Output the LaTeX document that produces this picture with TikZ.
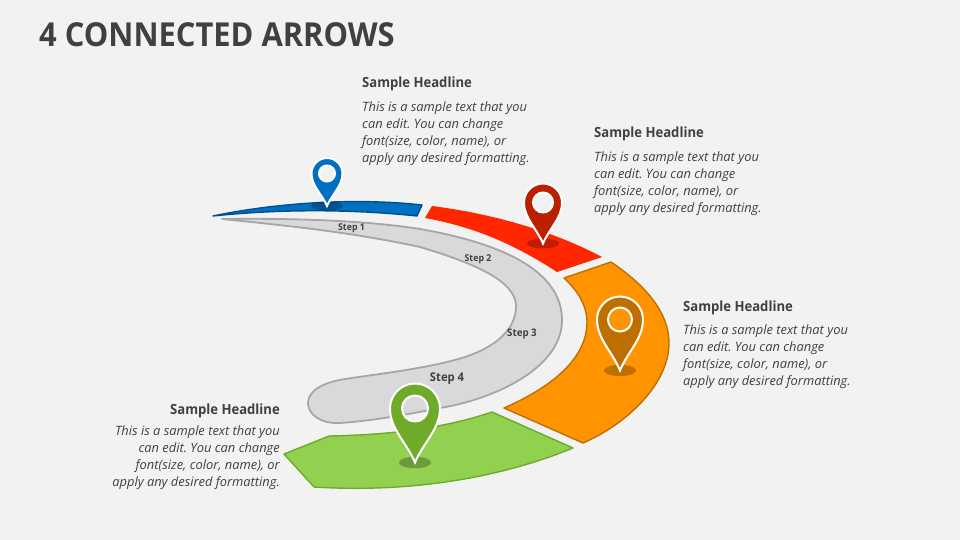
\documentclass[tikz,border=0pt]{standalone}
\usepackage{fontspec}
\setmainfont{Open Sans}
\newfontfamily\narrowbold[FakeStretch=0.935]{Open Sans Bold}
\definecolor{bg}{HTML}{F2F2F2}
\definecolor{ink}{HTML}{404040}
\definecolor{bluef}{HTML}{0070C0}
\definecolor{blued}{HTML}{00508F}
\definecolor{redf}{HTML}{FF2700}
\definecolor{redd}{HTML}{BC1E00}
\definecolor{orf}{HTML}{FF9300}
\definecolor{ord}{HTML}{BF6F00}
\definecolor{grf}{HTML}{92D050}
\definecolor{grd}{HTML}{6FAA2B}
\definecolor{grayf}{HTML}{D9D9D9}
\definecolor{grayd}{HTML}{A6A6A6}
\tikzset{
  headtext/.style={anchor=west,inner sep=0pt,text=ink,font=\fontsize{14}{17}\narrowbold\selectfont},
  bodytext/.style={anchor=north west,inner sep=0pt,text=ink,align=left,font=\fontsize{12.87}{17}\selectfont\itshape\frenchspacing},
  bodyright/.style={bodytext,anchor=north east,align=right},
  steptext/.style={inner sep=0pt,text=ink},
  band/.style={line width=1.4pt,line join=round},
}
% x, tip y, half width, centre y, ring radius, colour
\newcommand\pinmark[6]{%
  \begin{scope}[shift={(#1,#2)}]
    \pgfmathsetmacro\hh{#2-#4}
    \pgfmathsetmacro\ry{2.5+\hh*.06}
    \fill[black,opacity=.25] (0,0) ellipse [x radius=16,y radius=\ry];
    \filldraw[fill=#6,draw=white,line width=2pt,even odd rule,line join=miter]
      (0,0) .. controls (-#3*.32,-\hh*.36) and (-#3,-\hh*.62) .. (-#3,-\hh)
      arc[start angle=180,end angle=360,radius=#3]
      .. controls (#3,-\hh*.62) and (#3*.32,-\hh*.36) .. (0,0) -- cycle
      (0,-\hh) circle[radius=#5];
  \end{scope}}
\begin{document}
\begin{tikzpicture}[x=1pt,y=-1pt]
\useasboundingbox (0,0) rectangle (960,540);
\fill[bg] (0,0) rectangle (960,540);
\node[anchor=base west,inner sep=0pt,text=ink,font=\fontsize{33}{36}\narrowbold\selectfont] (title) at (39,46.5) {4 CONNECTED ARROWS};
% grey track
\filldraw[fill=grayf,draw=grayd,line width=1.8pt,line join=round]
  (222,219) .. controls (300,218) and (370,221) .. (420,229)
  .. controls (500,243) and (562,270) .. (562,320)
  .. controls (562,370) and (490,400) .. (440,408)
  .. controls (405,415) and (370,421) .. (340,423)
  .. controls (320,424) and (308,414) .. (308,403)
  .. controls (308,390) and (325,382) .. (345,379)
  .. controls (385,373) and (430,368) .. (465,357)
  .. controls (495,347) and (516,330) .. (516,306)
  .. controls (516,280) and (470,262) .. (420,247)
  .. controls (350,232) and (290,226) .. (222,219) -- cycle;
% blue
\filldraw[fill=bluef,draw=blued,band]
  (213,216) .. controls (270,204) and (350,197) .. (422,205)
  -- (417,216) .. controls (350,209) and (280,209) .. (213,216) -- cycle;
% red
\fill[redf]
  (432,206) .. controls (495,214) and (555,232) .. (602,257)
  -- (557,272) .. controls (520,248) and (480,228) .. (425,218) -- cycle;
% orange
\filldraw[fill=orf,draw=ord,band]
  (564,278) -- (611,262) .. controls (645,285) and (669,312) .. (669,343)
  .. controls (669,385) and (625,425) .. (583,443)
  -- (504,408) .. controls (545,390) and (587,362) .. (587,322)
  .. controls (587,305) and (577,290) .. (564,278) -- cycle;
% green
\filldraw[fill=grf,draw=grd,band]
  (284,454) -- (329,436) .. controls (390,435) and (445,428) .. (492,412)
  -- (573,448) .. controls (500,478) and (410,493) .. (314,487) -- cycle;
% pins
\pinmark{327}{206}{15.5}{173.5}{8}{bluef}
\pinmark{543}{243.5}{19}{202.5}{10}{redd}
\pinmark{620}{370.5}{23}{319.5}{12}{ord}
\pinmark{415}{462.5}{25}{408.5}{13}{grd}
% step labels
\node[steptext,font=\fontsize{9.4}{10}\narrowbold\selectfont] (s1) at (351.5,228) {Step 1};
\node[steptext,font=\fontsize{9.4}{10}\narrowbold\selectfont] (s2) at (478,259) {Step 2};
\node[steptext,font=\fontsize{10.4}{11}\narrowbold\selectfont] (s3) at (522,333.5) {Step 3};
\node[steptext,font=\fontsize{12}{13}\narrowbold\selectfont] (s4) at (447,378.5) {Step 4};
% texts
\node[headtext] (h1) at (362,83.5) {Sample Headline};
\node[bodytext] (b1) at (362,102) {This is a sample text that you\\can edit. You can change\\font(size, color, name), or\\apply any desired formatting.};
\node[headtext] (h2) at (594,133.5) {Sample Headline};
\node[bodytext] (b2) at (594,152) {This is a sample text that you\\can edit. You can change\\font(size, color, name), or\\apply any desired formatting.};
\node[headtext] (h3) at (683,307.5) {Sample Headline};
\node[bodytext] (b3) at (683,325) {This is a sample text that you\\can edit. You can change\\font(size, color, name), or\\apply any desired formatting.};
\node[headtext,anchor=east] (h4) at (280,410.5) {Sample Headline};
\node[bodyright] (b4) at (280,426) {This is a sample text that you\\can edit. You can change\\font(size, color, name), or\\apply any desired formatting.};
\end{tikzpicture}
\end{document}
